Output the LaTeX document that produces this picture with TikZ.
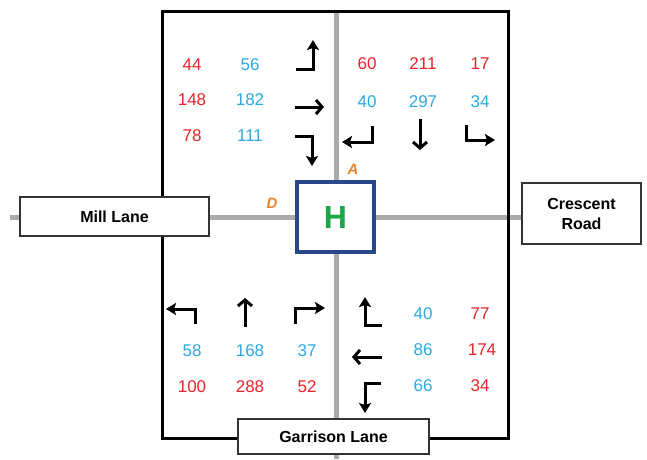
\documentclass[tikz,border=0pt]{standalone}
\usepackage{fontspec}
\setmainfont{Liberation Sans}
\usetikzlibrary{arrows.meta}
\definecolor{cntred}{HTML}{E8232B}
\definecolor{cntblue}{HTML}{2BA9E1}
\definecolor{roadgray}{HTML}{AAAAAA}
\definecolor{hblue}{HTML}{28488A}
\definecolor{hgreen}{HTML}{1BA64A}
\definecolor{tagorange}{HTML}{E8832A}
\begin{document}
\begin{tikzpicture}[x=1pt,y=-1pt,
  cnt/.style={inner sep=0pt,font=\fontsize{17}{20}\selectfont},
  cred/.style={cnt,text=cntred},
  cblue/.style={cnt,text=cntblue},
  turnmove/.style={line width=3pt,-{Stealth[length=10pt,width=12pt,inset=2pt]}},
  thrumove/.style={line width=3pt,-{Straight Barb[length=6pt,width=14pt]}},
  roadline/.style={draw=roadgray,line width=5pt},
  street/.style={draw=black!80,line width=1.3pt,fill=white,align=center,
    font=\bfseries\fontsize{16}{20}\selectfont,inner sep=0pt},
  tag/.style={text=tagorange,inner sep=0pt,font=\bfseries\itshape\fontsize{15}{17}\selectfont}
]
\useasboundingbox (0,0) rectangle (647,459);

% road centre lines
\coordinate (roadW) at (10,217);
\coordinate (roadE) at (522,217);
\coordinate (roadN) at (336,11);
\coordinate (roadS) at (336,459);
\draw[roadline] (roadW) -- (roadE);
\draw[roadline] (roadN) -- (roadS);

% study area frame
\draw[line width=3pt] (162,11) rectangle (508,438);

% street name boxes
\node[street,minimum width=189pt,minimum height=39pt] (mill) at (114.5,216.5) {Mill Lane};
\node[street,minimum width=119pt,minimum height=61pt] (crescent) at (581.5,213.5) {Crescent\\Road};
\node[street,minimum width=191pt,minimum height=35pt] (garrison) at (333.5,436.5) {Garrison Lane};

% junction
\node[draw=hblue,line width=4pt,fill=white,minimum width=77pt,minimum height=70pt,
  text=hgreen,font=\bfseries\fontsize{32}{34}\selectfont] (H) at (335.5,217) {H};
\node[tag] (tagA) at (353,169) {A};
\node[tag] (tagD) at (272,203) {D};

% north-west approach counts
\node[cred] (nw1) at (192,65) {44};
\node[cblue] (nw2) at (250,65) {56};
\node[cred] (nw3) at (192,100) {148};
\node[cblue] (nw4) at (250,100) {182};
\node[cred] (nw5) at (192,136) {78};
\node[cblue] (nw6) at (250,136) {111};
\draw[turnmove] (296,69) -- (313,69) -- (313,40);
\draw[thrumove] (295,107) -- (324,107);
\draw[turnmove] (295,136) -- (312,136) -- (312,166);

% north-east approach counts
\node[cred] (ne1) at (367,64) {60};
\node[cred] (ne2) at (423,64) {211};
\node[cred] (ne3) at (480,64) {17};
\node[cblue] (ne4) at (367,102) {40};
\node[cblue] (ne5) at (423,102) {297};
\node[cblue] (ne6) at (480,102) {34};
\draw[turnmove] (372,126) -- (372,142) -- (342,142);
\draw[thrumove] (420,119) -- (420,150);
\draw[turnmove] (466,125) -- (466,140) -- (495,140);

% south-west approach counts
\draw[turnmove] (195,324) -- (195,309) -- (166,309);
\draw[thrumove] (245,327) -- (245,298);
\draw[turnmove] (295,324) -- (295,308) -- (325,308);
\node[cblue] (sw1) at (192,351) {58};
\node[cblue] (sw2) at (250,351) {168};
\node[cblue] (sw3) at (307,351) {37};
\node[cred] (sw4) at (192,387) {100};
\node[cred] (sw5) at (250,387) {288};
\node[cred] (sw6) at (307,387) {52};

% south-east approach counts
\draw[turnmove] (382,325) -- (365,325) -- (365,297);
\draw[thrumove] (382,357) -- (352,357);
\draw[turnmove] (381,383) -- (365,383) -- (365,413);
\node[cblue] (se1) at (423,314) {40};
\node[cred] (se2) at (480,314) {77};
\node[cblue] (se3) at (423,350) {86};
\node[cred] (se4) at (482,350) {174};
\node[cblue] (se5) at (423,386) {66};
\node[cred] (se6) at (480,386) {34};
\end{tikzpicture}
\end{document}
